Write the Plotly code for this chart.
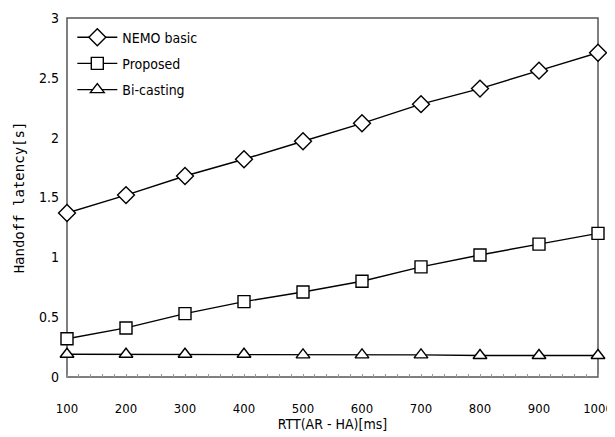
import plotly.graph_objects as go

rtt = [100, 200, 300, 400, 500, 600, 700, 800, 900, 1000]
nemo_basic = [1.37, 1.52, 1.68, 1.82, 1.97, 2.12, 2.28, 2.41, 2.56, 2.71]
proposed = [0.32, 0.41, 0.53, 0.63, 0.71, 0.80, 0.92, 1.02, 1.11, 1.20]
bicasting = [0.19, 0.19, 0.19, 0.19, 0.185, 0.185, 0.185, 0.18, 0.18, 0.18]
y_ticks = [0, 0.5, 1, 1.5, 2, 2.5, 3]
y_tick_labels = ["0", "0.5", "1", "1.5", "2", "2.5", "3"]

font_fam = "DejaVu Sans Condensed, Liberation Sans, sans-serif"

fig = go.Figure()
series = [
    ("NEMO basic", nemo_basic, "diamond", 13),
    ("Proposed", proposed, "square", 12),
    ("Bi-casting", bicasting, "triangle-up", 12),
]
for name, vals, sym, sz in series:
    fig.add_trace(go.Scatter(
        x=rtt, y=vals, name=name, mode="lines+markers", legendgroup=name,
        line=dict(color="black", width=1.4),
        marker=dict(symbol=sym, size=sz, color="white",
                    line=dict(color="black", width=1.4)),
        cliponaxis=False,
    ))

# plot frame
fig.add_shape(type="rect", xref="paper", yref="paper", x0=0, x1=1, y0=0, y1=1,
              line=dict(color="#555", width=1.5), layer="below")

fig.update_layout(
    width=615, height=429,
    margin=dict(l=59, r=25, t=10, b=60),
    paper_bgcolor="white", plot_bgcolor="white",
    font=dict(family=font_fam, size=14, color="black"),
    showlegend=True,
    legend=dict(x=0.01, y=0.99, xanchor="left", yanchor="top",
                bgcolor="rgba(0,0,0,0)", font=dict(size=14),
                itemwidth=40, tracegroupgap=5),
    xaxis=dict(
        range=[100, 1000], tickvals=rtt, ticks="", showgrid=False,
        showline=False, zeroline=False, ticklabelstandoff=22, automargin=False,
        tickfont=dict(size=13),
        title=dict(text="RTT(AR - HA)[ms]", font=dict(size=14), standoff=0),
        minor=dict(ticks="inside", ticklen=3, tickcolor="#999", dtick=20),
    ),
    yaxis=dict(
        range=[0, 3], tickvals=y_ticks, ticktext=y_tick_labels,
        ticks="", showgrid=False, zeroline=False, ticklabelstandoff=7,
        showline=False, automargin=False,
        title=dict(text="Handoff latency[s]", font=dict(size=14,
                   family="DejaVu Sans Mono, monospace"), standoff=11),
    ),
)

fig.write_html("out.html")
